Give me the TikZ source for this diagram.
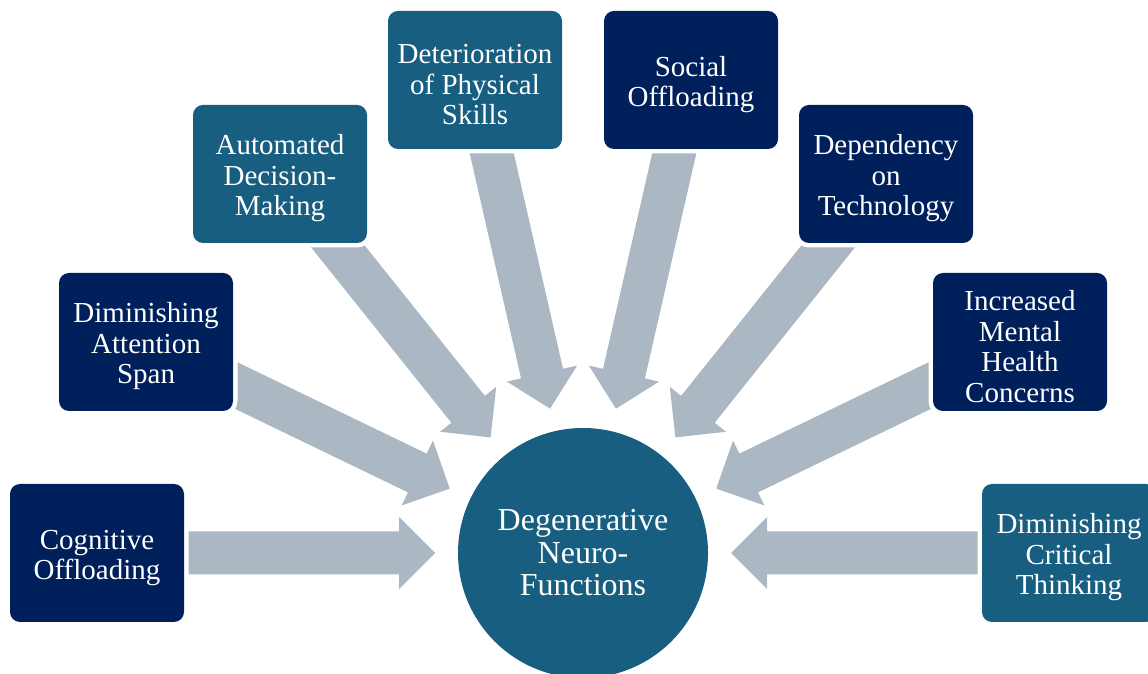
\documentclass[tikz,border=0pt]{standalone}
\usepackage{fontspec}
\setmainfont{Liberation Serif}
\usetikzlibrary{calc}

\definecolor{boxnavy}{HTML}{00205B}
\definecolor{boxteal}{HTML}{175E80}
\definecolor{arrowgray}{HTML}{ABB7C3}

\pgfdeclarelayer{arrowlayer}
\pgfsetlayers{arrowlayer,main}

% taller first line, so that the box text sits a little lower
\newcommand{\firstline}{\rule{0pt}{29pt}}

\tikzset{
  factor/.style={rectangle, rounded corners=10pt, minimum width=174pt,
    minimum height=138pt, inner sep=0pt, text=white, align=center,
    font=\fontsize{29pt}{30.5pt}\selectfont,
    preaction={draw=white, line width=9pt}},
  navybox/.style={factor, fill=boxnavy},
  tealbox/.style={factor, fill=boxteal},
  hubnode/.style={circle, minimum size=250pt, inner sep=0pt, fill=boxteal,
    text=white, align=center, font=\fontsize{32pt}{32.5pt}\selectfont,
    preaction={draw=white, line width=3pt}}
}

% block arrow from the centre of a factor box (#1) to a tip coordinate (#2)
\newcommand{\convarrow}[2]{%
  \coordinate (hb) at ($(#2.center)!36pt!(#1.center)$);
  \fill[arrowgray]
    ($(#1.center)!21.5pt!90:(#2.center)$) --
    ($(hb)!21.5pt!90:(#2.center)$) --
    ($(hb)!36pt!90:(#2.center)$) --
    (#2.center) --
    ($(hb)!36pt!-90:(#2.center)$) --
    ($(hb)!21.5pt!-90:(#2.center)$) --
    ($(#1.center)!21.5pt!-90:(#2.center)$) -- cycle;
}

\begin{document}
\begin{tikzpicture}[x=1pt, y=1pt]
  \useasboundingbox (0,0) rectangle (1148,674);

  % central circle
  \node[hubnode] (hub) at (583,121) {Degenerative\\Neuro-\\Functions};

  % contributing factors
  \node[navybox] (cog)  at (97,121)   {\firstline Cognitive\\Offloading};
  \node[navybox] (att)  at (146,332)  {\firstline Diminishing\\Attention\\Span};
  \node[tealbox] (auto) at (280,500)  {\firstline Automated\\Decision-\\Making};
  \node[tealbox] (det)  at (475,594)  {\firstline Deterioration\\of Physical\\Skills};
  \node[navybox] (soc)  at (691,594)  {\firstline Social\\Offloading};
  \node[navybox] (dep)  at (886,500)  {\firstline Dependency\\on\\Technology};
  \node[navybox] (inc)  at (1020,332) {\firstline Increased\\Mental\\Health\\Concerns};
  \node[tealbox] (crit) at (1069,121) {\firstline Diminishing\\Critical\\Thinking};

  % arrow tips, all at the same distance from the circle centre
  \foreach \n in {cog,att,auto,det,soc,dep,inc,crit}{
    \coordinate (\n-tip) at ($(hub)!148pt!(\n)$);
  }

  % converging arrows, behind the boxes
  \begin{pgfonlayer}{arrowlayer}
    \foreach \n in {cog,att,auto,det,soc,dep,inc,crit}{
      \convarrow{\n}{\n-tip}
    }
  \end{pgfonlayer}
\end{tikzpicture}
\end{document}
